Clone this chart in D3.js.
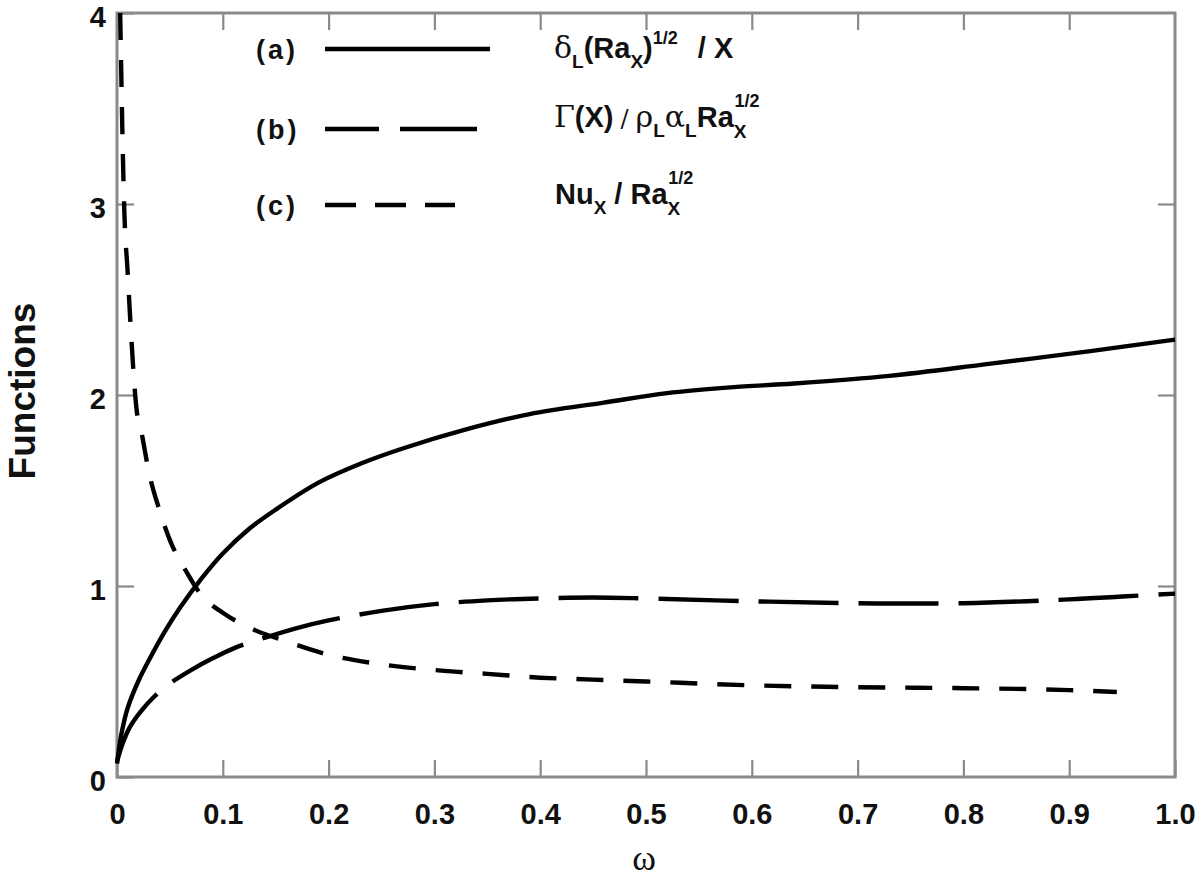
<!DOCTYPE html>
<html><head><meta charset="utf-8">
<script src="https://cdn.jsdelivr.net/npm/d3@7"></script>
<style>body{margin:0;background:#fff}</style>
</head><body>
<svg id="c" width="1200" height="877"></svg>
<script>
// ---- data ----
const aX = [0, 0.004, 0.01, 0.02, 0.03, 0.045, 0.06, 0.08, 0.1, 0.125, 0.15, 0.19, 0.23, 0.27, 0.33, 0.39, 0.46, 0.52, 0.58, 0.64, 0.73, 0.82, 0.92, 1.0];
const aY = [0.07, 0.22, 0.36, 0.50, 0.61, 0.76, 0.89, 1.04, 1.17, 1.30, 1.40, 1.54, 1.64, 1.72, 1.82, 1.90, 1.96, 2.01, 2.04, 2.06, 2.10, 2.16, 2.23, 2.29];
const bX = [0, 0.005, 0.012, 0.022, 0.035, 0.05, 0.07, 0.09, 0.113, 0.14, 0.17, 0.2, 0.25, 0.3, 0.35, 0.4, 0.45, 0.5, 0.6, 0.7, 0.8, 0.9, 0.95, 1.0];
const bY = [0.08, 0.17, 0.26, 0.34, 0.42, 0.49, 0.56, 0.62, 0.68, 0.73, 0.78, 0.82, 0.87, 0.905, 0.925, 0.935, 0.94, 0.935, 0.92, 0.91, 0.91, 0.93, 0.945, 0.96];
const cX = [0.003, 0.004, 0.005, 0.007, 0.01, 0.013, 0.018, 0.024, 0.03, 0.04, 0.05, 0.065, 0.08, 0.1, 0.13, 0.16, 0.2, 0.25, 0.3, 0.35, 0.4, 0.45, 0.5, 0.6, 0.7, 0.8, 0.9, 0.945];
const cY = [4.0, 3.7, 3.4, 2.95, 2.65, 2.35, 1.95, 1.78, 1.60, 1.40, 1.24, 1.08, 0.95, 0.86, 0.77, 0.71, 0.64, 0.59, 0.56, 0.54, 0.52, 0.51, 0.50, 0.48, 0.47, 0.465, 0.455, 0.445];
const xTicks = [0, 0.1, 0.2, 0.3, 0.4, 0.5, 0.6, 0.7, 0.8, 0.9, 1.0];
const xTickLabels = ["0", "0.1", "0.2", "0.3", "0.4", "0.5", "0.6", "0.7", "0.8", "0.9", "1.0"];
const yTicks = [0, 1, 2, 3, 4];
const yTickLabels = ["0", "1", "2", "3", "4"];
const legendKeys = ["(a)", "(b)", "(c)"];
const xTitle = "ω";
const yTitle = "Functions";

// ---- drawing ----
const svg = d3.select("#c");
const L = 117, R = 1175, T = 13, B = 777;
const x = d3.scaleLinear().domain([0, 1]).range([L, R]);
const y = d3.scaleLinear().domain([0, 4]).range([B, T]);
const gray = "#8a8a8a";
const font = "'Liberation Sans', Arial, sans-serif";

function styleAxis(g, showText) {
  g.select(".domain").remove();
  g.selectAll(".tick line").attr("stroke", gray).attr("stroke-width", 2.2);
  g.selectAll(".tick text").attr("font-family", font).attr("font-weight", "bold")
    .attr("font-size", 29).attr("fill", "#111");
  if (!showText) g.selectAll(".tick text").remove();
}
const inner = [0.1,0.2,0.3,0.4,0.5,0.6,0.7,0.8,0.9];
svg.append("g").attr("transform", `translate(0,${B})`)
  .call(d3.axisBottom(x).tickValues(xTicks).tickFormat((d,i)=>xTickLabels[i]).tickSize(-17).tickPadding(26))
  .call(g => styleAxis(g, true));
svg.append("g").attr("transform", `translate(0,${T})`)
  .call(d3.axisTop(x).tickValues(inner).tickSize(-17))
  .call(g => styleAxis(g, false));
svg.append("g").attr("transform", `translate(${L},0)`)
  .call(d3.axisLeft(y).tickValues(yTicks).tickFormat((d,i)=>yTickLabels[i]).tickSize(-17).tickPadding(11))
  .call(g => { styleAxis(g, true); g.selectAll(".tick text").attr("dy", "0.45em"); });
svg.append("g").attr("transform", `translate(${R},0)`)
  .call(d3.axisRight(y).tickValues([1,2,3]).tickSize(-17))
  .call(g => styleAxis(g, false));

svg.append("rect").attr("x", L).attr("y", T).attr("width", R - L).attr("height", B - T)
  .attr("fill", "none").attr("stroke", gray).attr("stroke-width", 3);

const lineSmooth = d3.line().x(d => x(d[0])).y(d => y(d[1])).curve(d3.curveCatmullRom.alpha(0.5));
const lineMono = d3.line().x(d => x(d[0])).y(d => y(d[1])).curve(d3.curveMonotoneX);
const series = [
  {xs: aX, ys: aY, dash: null, gen: lineSmooth},
  {xs: bX, ys: bY, dash: "80,20", gen: lineSmooth},
  {xs: cX, ys: cY, dash: "27,20", gen: lineMono}
];
series.forEach(s => {
  svg.append("path").datum(s.xs.map((v, i) => [v, s.ys[i]]))
    .attr("d", s.gen).attr("fill", "none").attr("stroke", "#000")
    .attr("stroke-width", 4.4).attr("stroke-dasharray", s.dash);
});

// axis titles
svg.append("text").attr("x", 644).attr("y", 870).attr("text-anchor", "middle")
  .attr("font-family", "'Liberation Serif', serif").attr("font-size", 36).attr("fill", "#111").text(xTitle);
svg.append("text").attr("transform", "translate(35,391) rotate(-90)").attr("text-anchor", "middle")
  .attr("font-family", font).attr("font-weight", "bold").attr("font-size", 37).attr("fill", "#111").text(yTitle);

// legend
const legY = [49, 129, 205];
const legEnd = [490, 477, 455];
const legDash = [null, "54,21,77,40", "31,19"];
legendKeys.forEach((k, i) => {
  svg.append("text").attr("x", 256).attr("y", legY[i] + 10).attr("font-family", font)
    .attr("font-weight", "bold").attr("font-size", 27).attr("letter-spacing", 3).attr("fill", "#111").text(k);
  svg.append("line").attr("x1", 325).attr("x2", legEnd[i])
    .attr("y1", legY[i]).attr("y2", legY[i]).attr("stroke", "#000").attr("stroke-width", 4.4)
    .attr("stroke-dasharray", legDash[i]);
});

function mathText(xp, yp, parts) {
  const t = svg.append("text").attr("x", xp).attr("y", yp).attr("font-family", font)
    .attr("font-weight", "bold").attr("font-size", 29).attr("fill", "#111");
  parts.forEach(p => {
    const s = t.append("tspan").text(p.t);
    if (p.dy) s.attr("dy", p.dy);
    if (p.dx) s.attr("dx", p.dx);
    if (p.fs) s.attr("font-size", p.fs);
    if (p.n) s.attr("font-weight", "normal").attr("font-family", "'DejaVu Serif', 'Liberation Serif', serif");
  });
}
mathText(554, 58, [
  {t: "δ", n: 1, fs: 30}, {t: "L", fs: 19, dy: 10}, {t: "(Ra", dy: -10}, {t: "X", fs: 19, dy: 10},
  {t: ")", dy: -10}, {t: "1/2", fs: 18, dy: -14}, {t: "/ X", dy: 14, dx: 20}
]);
mathText(554, 127, [
  {t: "Γ", n: 1, fs: 30}, {t: "(X)"}, {t: "/", n: 1, fs: 24, dx: 7}, {t: "ρ", n: 1, fs: 30, dx: 7},
  {t: "L", fs: 19, dy: 10}, {t: "α", n: 1, fs: 30, dy: -10}, {t: "L", fs: 19, dy: 10}, {t: "Ra", dy: -10},
  {t: "X", fs: 19, dy: 11}, {t: "1/2", fs: 18, dx: -12, dy: -31}
]);
mathText(555, 204, [
  {t: "Nu"}, {t: "X", fs: 19, dy: 10}, {t: "/ Ra", dy: -10, dx: 8}, {t: "X", fs: 19, dy: 11},
  {t: "1/2", fs: 18, dx: -12, dy: -31}
]);
</script>
</body></html>
